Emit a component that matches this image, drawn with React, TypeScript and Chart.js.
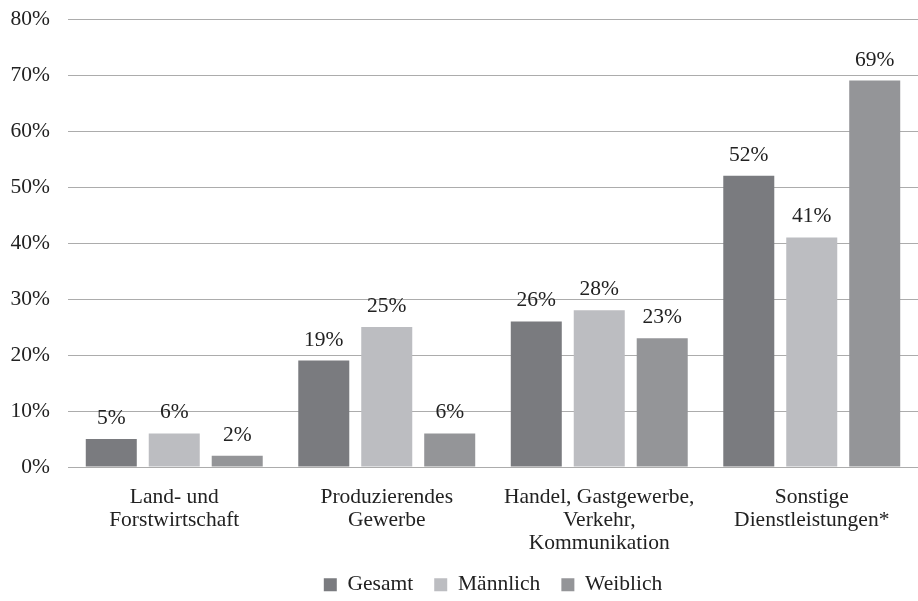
import React, { useEffect, useRef } from "react";
import { Chart, registerables } from "chart.js";

Chart.register(...registerables);

const categories: string[][] = [
  ["Land- und", "Forstwirtschaft"],
  ["Produzierendes", "Gewerbe"],
  ["Handel, Gastgewerbe,", "Verkehr,", "Kommunikation"],
  ["Sonstige", "Dienstleistungen*"],
];
const gesamt = [5, 19, 26, 52];
const maennlich = [6, 25, 28, 41];
const weiblich = [2, 6, 23, 69];
const seriesNames = ["Gesamt", "Männlich", "Weiblich"];
const seriesColors = ["#7a7b7f", "#bcbdc1", "#949598"];

const FONT = "'Times New Roman', 'Liberation Serif', 'DejaVu Serif', serif";
const FS = 21.5;
const TEXT = "#222222";

const valueLabels = {
  id: "valueLabels",
  afterDatasetsDraw(chart: any) {
    const ctx = chart.ctx;
    ctx.save();
    ctx.font = `${FS}px ${FONT}`;
    ctx.fillStyle = TEXT;
    ctx.textAlign = "center";
    ctx.textBaseline = "alphabetic";
    chart.data.datasets.forEach((ds: any, i: number) => {
      const meta = chart.getDatasetMeta(i);
      meta.data.forEach((bar: any, j: number) => {
        ctx.fillText(`${ds.data[j]}%`, bar.x, bar.y - 15);
      });
    });
    ctx.restore();
  },
};

export default function App() {
  const ref = useRef<HTMLCanvasElement>(null);
  useEffect(() => {
    document.body.style.margin = "0";
    const chart = new Chart(ref.current!, {
      type: "bar",
      data: {
        labels: categories,
        datasets: [
          { label: seriesNames[0], data: gesamt, backgroundColor: seriesColors[0] },
          { label: seriesNames[1], data: maennlich, backgroundColor: seriesColors[1] },
          { label: seriesNames[2], data: weiblich, backgroundColor: seriesColors[2] },
        ],
      },
      options: {
        animation: false,
        responsive: false,
        layout: { padding: { top: 19, right: 0, left: 0, bottom: -4.5 } },
        datasets: { bar: { categoryPercentage: 0.889, barPercentage: 0.81 } },
        scales: {
          x: {
            grid: { display: false },
            border: { display: true, color: "#acacac", width: 1 },
            ticks: {
              color: TEXT,
              font: { family: FONT, size: FS, lineHeight: 1.07 },
              padding: 11,
              maxRotation: 0,
              autoSkip: false,
            },
            afterFit: (s: any) => {
              s.height = 86;
            },
          },
          y: {
            min: 0,
            max: 80,
            ticks: {
              stepSize: 10,
              color: TEXT,
              font: { family: FONT, size: FS },
              padding: 18,
              callback: (v: any) => `${v}%`,
            },
            grid: { color: "#acacac", drawTicks: false, lineWidth: 1 },
            border: { display: false },
            afterFit: (s: any) => {
              s.width = 68;
              s.paddingTop = 0;
              s.paddingBottom = 0;
            },
          },
        },
        plugins: {
          legend: {
            position: "bottom",
            fullSize: false,
            labels: {
              color: TEXT,
              font: { family: FONT, size: FS },
              boxWidth: 13,
              boxHeight: 13,
              padding: 21,
            },
          },
          tooltip: { enabled: false },
        },
      },
      plugins: [valueLabels],
    });
    return () => chart.destroy();
  }, []);
  return (
    <div style={{ width: 918, height: 601 }}>
      <canvas ref={ref} width={918} height={601} />
    </div>
  );
}
